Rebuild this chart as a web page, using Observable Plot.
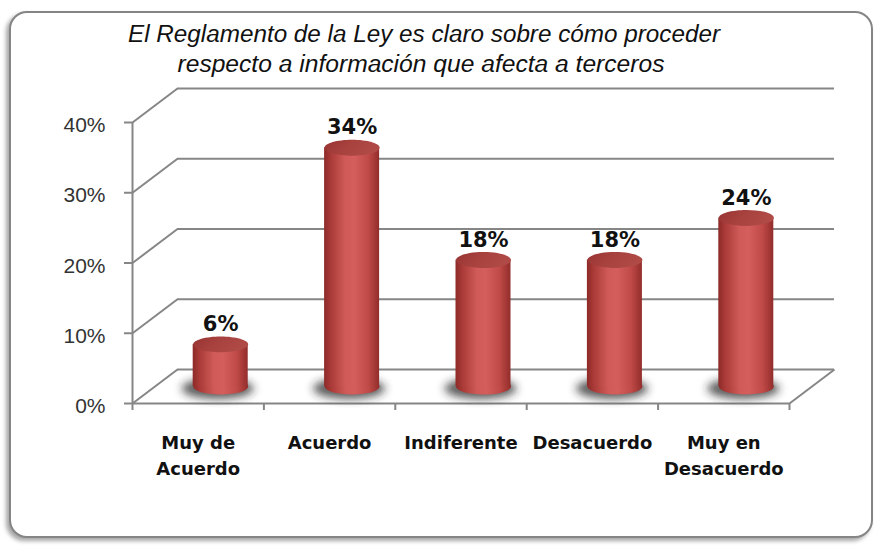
<!DOCTYPE html>
<html>
<head>
<meta charset="utf-8">
<script src="https://cdn.jsdelivr.net/npm/d3@7"></script>
<script src="https://cdn.jsdelivr.net/npm/@observablehq/plot@0.6"></script>
<style>
  html, body { margin: 0; padding: 0; background: #fff; }
  #wrap { position: relative; width: 881px; height: 546px; overflow: hidden; }
  #frame { position: absolute; left: 9px; top: 11px; width: 860px; height: 523px;
           border: 2px solid #858585; border-radius: 18px;
           box-shadow: -3px 3px 4px rgba(0,0,0,0.35); background: #fff; }
  #chart { position: absolute; left: 0; top: 0; }
</style>
</head>
<body>
<div id="wrap"><div id="frame"></div><div id="chart"></div></div>
<script>
// ---- data ----
const categories = ["Muy de\nAcuerdo", "Acuerdo", "Indiferente", "Desacuerdo", "Muy en\nDesacuerdo"];
const values = [6, 34, 18, 18, 24];
const valueLabels = ["6%", "34%", "18%", "18%", "24%"];
const yTicks = [0, 10, 20, 30, 40];
const yTickLabels = ["0%", "10%", "20%", "30%", "40%"];
const titleLines = ["El Reglamento de la Ley es claro sobre cómo proceder",
                    "respecto a información que afecta a terceros"];

// ---- layout ----
const W = 881, H = 546, ML = 132, MR = 92, MT = 122, MB = 143;
const BAND = (W - ML - MR) / categories.length;
const PXY = (H - MB - MT) / 40;
const DX = 45, DY = -34;            // depth of the 3D box in pixels
const dxU = DX / BAND, dyU = -DY / PXY; // same depth in data units
const HW = 27.5;                    // cylinder half width px
const hw = HW / BAND;
const GRID = "#868686";

const rows = categories.map((c, i) => ({i, category: c, value: values[i], label: valueLabels[i]}));

const ellipse = {
  draw(ctx, size) {
    const r = Math.sqrt(size / Math.PI), rx = r, ry = r * 0.29, k = 0.5523;
    ctx.moveTo(rx, 0);
    ctx.bezierCurveTo(rx, ry * k, rx * k, ry, 0, ry);
    ctx.bezierCurveTo(-rx * k, ry, -rx, ry * k, -rx, 0);
    ctx.bezierCurveTo(-rx, -ry * k, -rx * k, -ry, 0, -ry);
    ctx.bezierCurveTo(rx * k, -ry, rx, -ry * k, rx, 0);
    ctx.closePath();
  }
};

const svg = Plot.plot({
  width: W, height: H,
  marginLeft: ML, marginRight: MR, marginTop: MT, marginBottom: MB,
  style: {background: "transparent", overflow: "visible"},
  x: {type: "linear", domain: [0, categories.length], axis: null},
  y: {domain: [0, 40], axis: null},
  marks: [
    // back wall gridlines
    Plot.ruleY(yTicks, {y: d => d, dx: DX, dy: DY, stroke: GRID, strokeWidth: 2}),
    // side wall diagonals
    Plot.link(yTicks, {x1: () => 0, y1: d => d, x2: () => dxU, y2: d => d + dyU, stroke: GRID, strokeWidth: 2}),
    // floor right edge
    Plot.link([0], {x1: () => categories.length, y1: () => 0, x2: () => categories.length + dxU, y2: () => dyU, stroke: GRID, strokeWidth: 2}),
    // front axes
    Plot.ruleX([0], {x: d => d, y1: () => 0, y2: () => 40, stroke: GRID, strokeWidth: 2}),
    Plot.ruleY([0], {y: d => d, x1: () => 0, x2: () => categories.length, stroke: GRID, strokeWidth: 2}),
    Plot.ruleY(yTicks, {y: d => d, x1: () => -8 / BAND, x2: () => 0, stroke: GRID, strokeWidth: 2}),
    Plot.ruleX(d3.range(categories.length + 1), {x: d => d, y1: () => 0, y2: () => -7 / PXY, stroke: GRID, strokeWidth: 2}),
    // shadows (first dot mark; blurred afterwards)
    Plot.dot(rows, {x: d => d.i + 0.5, y: () => 0, dx: DX / 2 - 3, dy: DY / 2 + 2, r: 36, symbol: ellipse,
      fill: "#2a2a2a", fillOpacity: 0.75}),
    // cylinders
    Plot.dot(rows, {x: d => d.i + 0.5, y: () => 0, dx: DX / 2, dy: DY / 2, r: HW, symbol: ellipse, fill: "url(#cylGrad)"}),
    Plot.rect(rows, {x1: d => d.i + 0.5 - hw, x2: d => d.i + 0.5 + hw, y1: () => 0, y2: d => d.value,
      dx: DX / 2, dy: DY / 2, fill: "url(#cylGrad)"}),
    Plot.dot(rows, {x: d => d.i + 0.5, y: d => d.value, dx: DX / 2, dy: DY / 2, r: HW, symbol: ellipse, fill: "url(#topGrad)"}),
    // value labels
    Plot.text(rows, {x: d => d.i + 0.5, y: d => d.value, text: d => d.label, dx: DX / 2, dy: DY / 2 - 20,
      fontFamily: "DejaVu Sans", fontWeight: "bold", fontSize: 21, fill: "#111"}),
    // category labels
    Plot.text(rows, {x: d => d.i + 0.5, y: () => 0, text: d => d.category, lineAnchor: "top", dy: 27,
      lineHeight: 1.45, fontFamily: "DejaVu Sans", fontWeight: "bold", fontSize: 18, fill: "#111"}),
    // y tick labels
    Plot.text(yTicks, {x: () => 0, y: d => d, text: (d, i) => yTickLabels[i], textAnchor: "end", dx: -27, dy: 3,
      fontFamily: "Liberation Sans", fontSize: 21, fill: "#333"})
  ]
});

// gradients and blur
const s = d3.select(svg);
const defs = s.insert("defs", ":first-child");
const g1 = defs.append("linearGradient").attr("id", "cylGrad").attr("x1", 0).attr("x2", 1).attr("y1", 0).attr("y2", 0);
[[0, "#8c2a28"], [0.12, "#a93a37"], [0.38, "#cf5a57"], [0.55, "#d45e5b"], [0.8, "#c04a47"], [1, "#922d2b"]]
  .forEach(([o, c]) => g1.append("stop").attr("offset", o).attr("stop-color", c));
const g2 = defs.append("linearGradient").attr("id", "topGrad").attr("x1", 0).attr("x2", 1).attr("y1", 0).attr("y2", 0.3);
[[0, "#963331"], [0.5, "#a8423f"], [1, "#b04a47"]]
  .forEach(([o, c]) => g2.append("stop").attr("offset", o).attr("stop-color", c));
const f = defs.append("filter").attr("id", "blur").attr("x", "-50%").attr("y", "-150%").attr("width", "200%").attr("height", "400%");
f.append("feGaussianBlur").attr("stdDeviation", 4);
const dotGroups = svg.querySelectorAll('g[aria-label="dot"]');
if (dotGroups.length) dotGroups[0].setAttribute("filter", "url(#blur)");

// title
const title = s.append("g").attr("font-family", "Liberation Sans").attr("font-style", "italic")
  .attr("font-size", 23).attr("fill", "#111").attr("text-anchor", "middle");
title.append("text").attr("x", 424).attr("y", 42).attr("textLength", 592).attr("lengthAdjust", "spacingAndGlyphs").text(titleLines[0]);
title.append("text").attr("x", 421).attr("y", 72).attr("textLength", 487).attr("lengthAdjust", "spacingAndGlyphs").text(titleLines[1]);

document.getElementById("chart").appendChild(svg);
</script>
</body>
</html>
